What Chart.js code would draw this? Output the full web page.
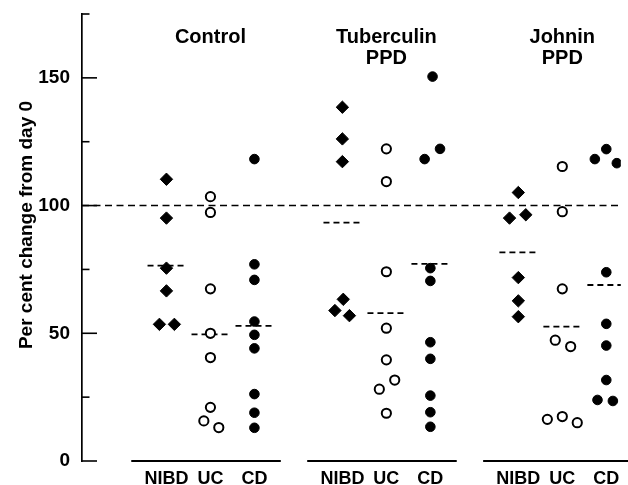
<!DOCTYPE html>
<html>
<head>
<meta charset="utf-8">
<script src="https://cdn.jsdelivr.net/npm/chart.js@4.4.1/dist/chart.umd.min.js"></script>
<style>
  html, body { margin: 0; padding: 0; background: #fff; overflow: hidden; }
  #wrap { width: 628px; height: 485px; }
</style>
</head>
<body>
<div id="wrap"><canvas id="chart" width="628" height="485"></canvas></div>
<script>
// Group titles, one entry per text line
const groupTitles = [['Control'], ['Tuberculin', 'PPD'], ['Johnin', 'PPD']];
const subgroups = ['NIBD', 'UC', 'CD'];

// Per cent change from day 0 (Control, Tuberculin PPD, Johnin PPD)
const nibdValues = [
    [110.3, 95.1, 75.5, 66.6, 53.5, 53.5],
    [138.5, 126.1, 117.2, 63.3, 58.9, 56.9],
    [105.1, 96.4, 95.1, 71.8, 62.7, 56.5]
];
const ucValues = [
    [103.5, 97.3, 67.4, 50.0, 40.5, 21.0, 15.7, 13.1],
    [122.2, 109.4, 74.1, 52.0, 39.6, 31.7, 28.1, 18.7],
    [115.3, 97.6, 67.4, 47.3, 44.8, 17.4, 16.3, 15.0]
];
const cdValues = [
    [118.2, 77.0, 70.9, 54.6, 49.4, 44.1, 26.2, 18.9, 13.0],
    [150.5, 122.2, 118.2, 75.5, 70.5, 46.5, 40.0, 25.6, 19.1, 13.4],
    [122.1, 118.2, 116.6, 73.9, 53.7, 45.2, 31.7, 23.9, 23.5]
];

// sideways spread of overlapping points (in column units)
const nibdJitter = [
    [0, 0, 0, 0, -0.16, 0.18],
    [0, 0, 0, 0.02, -0.17, 0.16],
    [0, 0.17, -0.2, 0, 0, 0]
];
const ucJitter = [
    [0, 0, 0, 0, 0, 0, -0.15, 0.19],
    [0, 0, 0, 0, 0, 0.19, -0.16, 0],
    [0, 0, 0, -0.16, 0.19, 0, -0.34, 0.34]
];
const cdJitter = [
    [0, 0, 0, 0, 0, 0, 0, 0, 0],
    [0.05, 0.22, -0.13, 0, 0, 0, 0, 0, 0, 0],
    [0, -0.26, 0.24, 0, 0, 0, 0, -0.2, 0.15]
];

// group means (short dashed lines)
const nibdMeans = [76.5, 93.3, 81.7];
const ucMeans = [49.6, 57.9, 52.6];
const cdMeans = [52.9, 77.2, 68.9];

const referenceValue = 100;
const yTickValues = [0, 25, 50, 75, 100, 125, 150, 175];
const yTickLabels = ['0', '', '50', '', '100', '', '150', ''];
const yTitle = 'Per cent change from day 0';

const X_MIN = -1.92, X_MAX = 10.33;
const FONT = '"Liberation Sans", Arial, sans-serif';

function colX(g, s) { return g * 4 + s; }

function pointsFor(values, jitter, s) {
    const pts = [];
    values.forEach((arr, g) => {
        arr.forEach((v, i) => pts.push({ x: colX(g, s) + jitter[g][i], y: v }));
    });
    return pts;
}

function lineSet(data, dash, width, extra) {
    return Object.assign({
        data: data,
        showLine: true,
        borderColor: '#000',
        borderWidth: width,
        borderDash: dash,
        pointRadius: 0,
        fill: false
    }, extra || {});
}

const datasets = [
    {
        label: 'NIBD',
        data: pointsFor(nibdValues, nibdJitter, 0),
        pointStyle: 'rectRot',
        pointRadius: 6.2,
        backgroundColor: '#000',
        borderColor: '#000',
        borderWidth: 1
    },
    {
        label: 'UC',
        data: pointsFor(ucValues, ucJitter, 1),
        pointStyle: 'circle',
        pointRadius: 4.6,
        backgroundColor: '#fff',
        borderColor: '#000',
        borderWidth: 2
    },
    {
        label: 'CD',
        data: pointsFor(cdValues, cdJitter, 2),
        pointStyle: 'circle',
        pointRadius: 4.8,
        backgroundColor: '#000',
        borderColor: '#000',
        borderWidth: 1
    }
];

// mean lines
[nibdMeans, ucMeans, cdMeans].forEach((means, s) => {
    means.forEach((m, g) => {
        datasets.push(lineSet([{ x: colX(g, s) - 0.43, y: m }, { x: colX(g, s) + 0.43, y: m }], [6, 4], 1.8));
    });
});

// 100 % reference line
datasets.push(lineSet([{ x: X_MIN, y: referenceValue }, { x: X_MAX, y: referenceValue }], [7, 4.5], 1.6));

// broken baseline under each group
groupTitles.forEach((t, g) => {
    datasets.push(lineSet([{ x: colX(g, 0) - 0.8, y: 0 }, { x: colX(g, 2) + 0.6, y: 0 }], [], 2, { clip: false }));
});

const decorPlugin = {
    id: 'decor',
    afterDraw(chart) {
        const ctx = chart.ctx;
        const xs = chart.scales.x, ys = chart.scales.y;
        const left = chart.chartArea.left;
        ctx.save();
        ctx.strokeStyle = '#000';
        ctx.lineWidth = 1.6;
        // inward tick marks
        yTickValues.forEach((v, i) => {
            const py = ys.getPixelForValue(v);
            const len = yTickLabels[i] ? 15 : 7.5;
            ctx.beginPath();
            ctx.moveTo(left - 0.8, py);
            ctx.lineTo(left + len, py);
            ctx.stroke();
        });
        // group titles
        ctx.fillStyle = '#000';
        ctx.textAlign = 'center';
        ctx.textBaseline = 'alphabetic';
        ctx.font = 'bold 20px ' + FONT;
        groupTitles.forEach((lines, g) => {
            const px = xs.getPixelForValue(colX(g, 1));
            lines.forEach((txt, j) => ctx.fillText(txt, px, 43 + j * 20.5));
        });
        // y title
        ctx.font = 'bold 19px ' + FONT;
        ctx.translate(32, 225);
        ctx.rotate(-Math.PI / 2);
        ctx.fillText(yTitle, 0, 0);
        ctx.restore();
    }
};

new Chart(document.getElementById('chart'), {
    type: 'scatter',
    data: { datasets: datasets },
    options: {
        responsive: false,
        animation: false,
        devicePixelRatio: 1,
        layout: { padding: { top: 14, right: 0, left: 0, bottom: 0 } },
        plugins: { legend: { display: false }, tooltip: { enabled: false } },
        scales: {
            x: {
                type: 'linear',
                min: X_MIN,
                max: X_MAX,
                grid: { display: false, drawTicks: false },
                border: { display: false },
                afterBuildTicks: (s) => {
                    s.ticks = [];
                    groupTitles.forEach((t, g) => subgroups.forEach((n, k) => s.ticks.push({ value: colX(g, k) })));
                },
                afterFit: (s) => { s.height = 24; s.paddingLeft = 0; s.paddingRight = 0; },
                ticks: {
                    autoSkip: false,
                    maxRotation: 0,
                    padding: 7,
                    color: '#000',
                    font: { family: FONT, size: 18, weight: 'bold' },
                    callback: (v) => subgroups[Math.round(v) % 4]
                }
            },
            y: {
                min: 0,
                max: 175,
                grid: { display: false, drawTicks: false },
                border: { display: true, color: '#000', width: 1.7 },
                afterBuildTicks: (s) => { s.ticks = yTickValues.map(v => ({ value: v })); },
                afterFit: (s) => { s.width = 82; s.paddingTop = 0; s.paddingBottom = 0; },
                ticks: {
                    padding: 12,
                    color: '#000',
                    font: { family: FONT, size: 19, weight: 'bold' },
                    callback: (v) => yTickLabels[yTickValues.indexOf(v)] || null
                }
            }
        }
    },
    plugins: [decorPlugin]
});
</script>
</body>
</html>
